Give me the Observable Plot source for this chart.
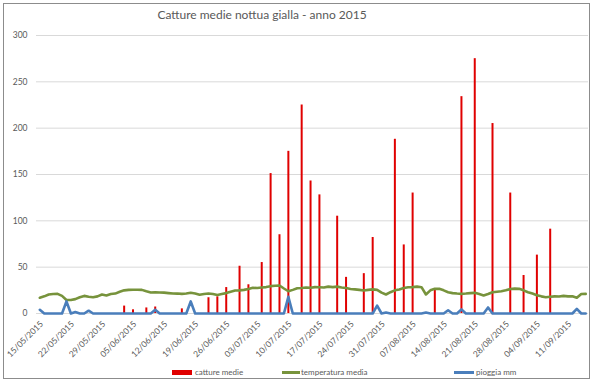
<!DOCTYPE html>
<html>
<head>
<meta charset="utf-8">
<script src="https://cdn.jsdelivr.net/npm/d3@7"></script>
<script src="https://cdn.jsdelivr.net/npm/@observablehq/plot@0.6"></script>
<style>
  html, body { margin: 0; padding: 0; background: #fff; }
  #wrap { position: relative; width: 599px; height: 384px; font-family: Lato, "Open Sans", sans-serif; color: #595959; overflow: hidden; }
  #wrap svg { position: absolute; left: 0; top: 0; }
  .abs { position: absolute; white-space: nowrap; }
</style>
</head>
<body>
<div id="wrap"></div>
<script>
// ---- data ----
const startDate = "2015-05-15";
const endDate = "2015-09-15";
const chartTitle = "Catture medie nottua gialla - anno 2015";
const seriesNames = ["catture medie", "temperatura media", "pioggia mm"];
const yTicks = [0, 50, 100, 150, 200, 250, 300];

// daily values from 15/05/2015 to 15/09/2015 (124 days)
const temperatura = [
  17, 18.5, 20.5, 21, 21.2, 19, 14.5, 14.5, 15.5, 17.5,
  19, 18, 17.6, 18.5, 20.5, 19.5, 21, 21.5, 23.5, 25,
  25.5, 25.7, 25.6, 25.5, 24, 22.7, 23, 22.7, 22.5, 22,
  21.6, 21.5, 21.2, 21.5, 22.3, 21.5, 20.2, 21, 21.6, 21,
  20, 21, 22, 23.5, 24.8, 25, 25.5, 26.5, 27.7, 27.5,
  28, 28.5, 29.5, 30, 30.2, 27, 24, 25.5, 27.3, 27.5,
  28, 27.8, 28.5, 28.4, 28, 29, 28.5, 29, 28, 27.5,
  26.5, 26, 25.5, 24.8, 25.5, 26, 25.5, 22.5, 20.5, 23,
  25, 26, 27.5, 28.4, 28.5, 29, 28.4, 20.5, 25, 26.6,
  26.6, 25, 23, 22, 21.5, 21.2, 21.5, 22, 22.3, 21,
  19.5, 21, 23, 23.5, 24, 25, 26.5, 26.8, 26.6, 25,
  23, 21.5, 19.8, 18.5, 17.6, 18, 18.5, 18.3, 19, 18.5,
  18.5, 17, 21, 21.2
];
const pioggia = [
  4, 0, 0, 0, 0, 0, 13, 0, 1.5, 0,
  0, 3, 0, 0, 0, 0, 0, 0, 0, 0,
  0, 0, 0, 0, 0, 0, 4, 0, 0, 0,
  0, 0, 0, 0, 13, 0, 0, 0, 0, 0,
  0, 0, 0, 0, 0, 0, 0, 0, 0, 0,
  0, 0, 0, 0, 0, 0, 18, 0, 0, 0,
  0, 0, 0, 0, 0, 0, 0, 0, 0, 0,
  0, 0, 0, 0, 0, 0, 8.5, 0, 1, 0,
  0, 0, 0, 0, 0, 0, 0, 1, 0, 0,
  0, 0, 3.5, 0, 0, 4.5, 0, 0, 0, 0,
  0, 6.5, 0, 0, 0, 0, 0, 0, 0, 0,
  0, 0, 0, 0, 0, 0, 0, 0, 0, 0,
  0, 5, 0, 0
];
const cattureDates = [
  "2015-06-03", "2015-06-05", "2015-06-08", "2015-06-10", "2015-06-16",
  "2015-06-22", "2015-06-24", "2015-06-26", "2015-06-29", "2015-07-01",
  "2015-07-04", "2015-07-06", "2015-07-08", "2015-07-10", "2015-07-13",
  "2015-07-15", "2015-07-17", "2015-07-21", "2015-07-23", "2015-07-27",
  "2015-07-29", "2015-08-03", "2015-08-05", "2015-08-07", "2015-08-12",
  "2015-08-18", "2015-08-21", "2015-08-25", "2015-08-29", "2015-09-01",
  "2015-09-04", "2015-09-07"
];
const cattureValues = [
  8, 4, 6, 7, 5,
  17, 18, 28, 51, 31,
  55, 151, 85, 175, 225,
  143, 128, 105, 39, 43,
  82, 188, 74, 130, 25,
  234, 275, 205, 130, 41,
  63, 91
];

// ---- build tables ----
const day = 24 * 3600 * 1000;
const t0 = new Date(startDate + "T00:00:00Z");
const daily = temperatura.map((t, i) => ({date: new Date(+t0 + i * day), temp: t, rain: pioggia[i]}));
const catture = cattureDates.map((d, i) => ({date: new Date(d + "T00:00:00Z"), value: cattureValues[i]}));
const tickDates = d3.range(0, temperatura.length, 7).map(i => new Date(+t0 + i * day));
const fmt = d3.utcFormat("%d/%m/%Y");

const colors = {bar: "#e00000", temp: "#77933c", rain: "#4a7ebb"};

const plot = Plot.plot({
  width: 599,
  height: 384,
  marginLeft: 36,
  marginRight: 11,
  marginTop: 35,
  marginBottom: 71,
  style: {fontFamily: "Lato, 'Open Sans', sans-serif", fontSize: "8.5px", color: "#595959", background: "transparent"},
  x: {type: "utc", domain: [new Date(+t0 - 0.75 * day), new Date(+new Date(endDate + "T00:00:00Z") + 0.63 * day)]},
  y: {domain: [0, 300], ticks: yTicks},
  marks: [
    Plot.gridY(yTicks, {stroke: "#d9d9d9", strokeOpacity: 1, strokeWidth: 1}),
    Plot.axisY(yTicks, {tickSize: 0, tickPadding: 9, label: null, fill: "#595959"}),
    Plot.axisX(tickDates, {tickSize: 0, tickPadding: 9, dx: 2, tickRotate: -45, tickFormat: fmt, label: null, fill: "#595959"}),
    Plot.ruleY([0], {stroke: "#d9d9d9"}),
    Plot.ruleX(catture, {x: "date", y1: 0, y2: "value", stroke: colors.bar, strokeWidth: 2}),
    Plot.line(daily, {x: "date", y: "temp", stroke: colors.temp, strokeWidth: 2.6, curve: "linear"}),
    Plot.line(daily, {x: "date", y: "rain", stroke: colors.rain, strokeWidth: 2.6, curve: "linear"})
  ]
});

const wrap = document.getElementById("wrap");
wrap.appendChild(plot);

function add(html, css) {
  const el = document.createElement("div");
  el.className = "abs";
  el.innerHTML = html;
  Object.assign(el.style, css);
  wrap.appendChild(el);
  return el;
}
// border
add("", {left: "3px", top: "3px", width: "587px", height: "376px", border: "1px solid #8c8c8c", boxSizing: "border-box"});
// title
add(chartTitle, {left: "262px", top: "7px", transform: "translateX(-50%)", fontSize: "12px", color: "#595959"});
// legend
add("", {left: "172px", top: "370px", width: "20px", height: "5px", background: colors.bar});
add(seriesNames[0], {left: "195px", top: "366px", fontSize: "8px", lineHeight: "13px"});
add("", {left: "282px", top: "371px", width: "18px", height: "3px", background: colors.temp});
add(seriesNames[1], {left: "301px", top: "366px", fontSize: "8px", lineHeight: "13px"});
add("", {left: "454px", top: "371px", width: "20px", height: "3px", background: colors.rain});
add(seriesNames[2], {left: "476px", top: "366px", fontSize: "8px", lineHeight: "13px"});
</script>
</body>
</html>
